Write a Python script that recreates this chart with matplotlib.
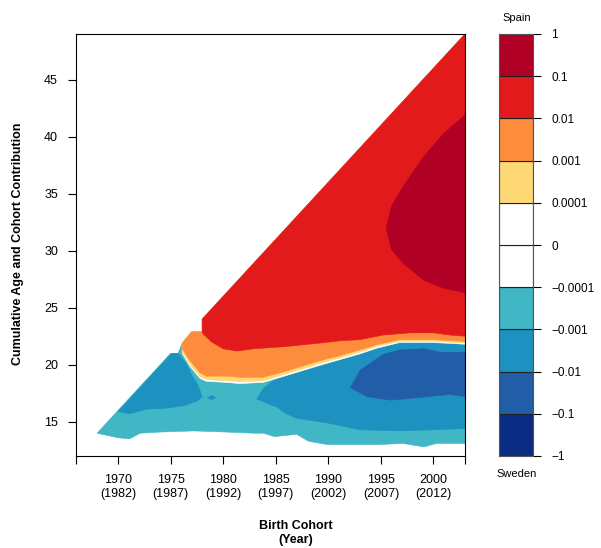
import numpy as np
import matplotlib
matplotlib.use('Agg')
import matplotlib.pyplot as plt

plt.rcParams['font.family'] = ['Liberation Sans', 'DejaVu Sans']

# colours of the contour classes (YlGnBu for Sweden, YlOrRd for Spain)
level_colors = ['#0C2C84', '#225EA8', '#1D91C0', '#41B6C4', '#FFFFFF',
                '#FFFFFF', '#FED976', '#FD8D3C', '#E31A1C', '#B10026']
level_labels = ['\u22121', '\u22120.1', '\u22120.01', '\u22120.001', '\u22120.0001', '0',
                '0.0001', '0.001', '0.01', '0.1', '1']

# x tick labels: birth cohort (year of observation)
cohort_ticks = [1970, 1975, 1980, 1985, 1990, 1995, 2000]
cohort_labels = ['1970\n(1982)', '1975\n(1987)', '1980\n(1992)', '1985\n(1997)',
                 '1990\n(2002)', '1995\n(2007)', '2000\n(2012)']
age_ticks = [15, 20, 25, 30, 35, 40, 45]

# outer edge of the estimated surface
top_x = [1968.0, 1975.0, 1975.7, 1976.1, 1977.0, 1978.0, 1978.0, 2003.0]
top_y = [14.0, 21.0, 21.0, 21.9, 22.9, 22.9, 24.0, 49.0]
bottom_x = [1968.0, 1970.0, 1971.1, 1972.1, 1974.0, 1977.2, 1980.3, 1982.9, 1983.8,
            1984.9, 1985.9, 1987.0, 1988.1, 1989.9, 1992.1, 1994.6, 1997.1, 1999.1,
            2000.3, 2003.0]
bottom_y = [14.0, 13.6, 13.5, 14.0, 14.1, 14.2, 14.1, 14.0, 14.0,
            13.7, 13.8, 13.9, 13.3, 13.0, 13.0, 13.0, 13.1, 12.8,
            13.1, 13.1]

# -0.001 .. -0.01 regions
blue_left_x = [1970.0, 1975.1, 1975.7, 1976.5, 1977.0, 1977.6, 1978.0, 1977.5, 1976.2,
               1974.6, 1972.7, 1971.1]
blue_left_y = [15.9, 21.0, 21.0, 20.1, 19.1, 18.2, 17.2, 16.8, 16.4,
               16.2, 16.1, 15.7]
blue_dot_x = [1978.5, 1978.9, 1979.3, 1978.9]
blue_dot_y = [17.1, 17.3, 17.1, 16.95]
blue_right_x = [1983.2, 1983.8, 1984.6, 1986.0, 1989.0, 1992.0, 1995.0, 1997.0, 2003.0,
                2003.0, 2000.0, 1996.8, 1993.0, 1989.9, 1987.0, 1986.0, 1985.1, 1984.5]
blue_right_y = [17.0, 17.9, 18.5, 19.2, 20.3, 21.2, 22.0, 22.4, 22.3,
                14.4, 14.3, 14.2, 14.3, 14.9, 15.3, 15.7, 16.3, 16.5]

# -0.01 .. -0.1 region
navy_x = [1992.1, 1993.0, 1995.2, 1996.8, 1999.1, 2000.6, 2003.0, 2003.0, 2001.6,
          1998.4, 1995.9, 1993.7]
navy_y = [18.0, 19.5, 20.9, 21.3, 21.4, 21.1, 21.1, 17.2, 17.4,
          17.1, 16.9, 17.2]

# lower edges of the positive classes (everything above them up to the outer edge)
band_x = [1976.1, 1976.8, 1977.8, 1978.4, 1980.3, 1981.6, 1983.8, 1986.0, 1989.2,
          1991.1, 1993.0, 1994.6, 1996.8, 2000.0, 2003.0]
white_lo = [21.0, 19.9, 18.8, 18.55, 18.45, 18.35, 18.45, 19.05, 19.95,
            20.45, 20.95, 21.45, 21.95, 21.95, 21.8]
yellow_lo = [21.15, 20.05, 18.95, 18.7, 18.6, 18.5, 18.6, 19.2, 20.1,
             20.6, 21.1, 21.6, 22.05, 22.05, 21.9]
orange_lo = [21.4, 20.4, 19.3, 19.0, 19.0, 18.9, 18.9, 19.45, 20.35,
             20.8, 21.3, 21.75, 22.2, 22.2, 22.05]
red_x = [1978.0, 1978.1, 1978.9, 1980.0, 1981.3, 1982.9, 1986.0, 1989.2, 1991.1,
         1993.0, 1995.2, 1997.8, 2000.0, 2001.6, 2003.0]
red_lo = [22.9, 22.7, 22.0, 21.4, 21.2, 21.4, 21.6, 21.9, 22.1,
          22.2, 22.6, 22.8, 22.8, 22.6, 22.5]

# 0.1 .. 1 region
darkred_x = [2003.0, 2001.0, 1999.1, 1997.1, 1996.0, 1995.5, 1996.0, 1997.1, 1999.1,
             2001.0, 2003.0]
darkred_y = [41.9, 40.3, 38.3, 35.6, 33.9, 32.0, 30.1, 28.9, 27.4,
             26.7, 26.3]


def upper_region(xs, ys):
    # lower curve from left to right, then back along the outer edge
    px = list(xs)
    py = list(ys)
    for tx, ty in reversed(list(zip(top_x, top_y))):
        if tx >= xs[0]:
            px.append(tx)
            py.append(ty)
    return px, py


fig = plt.figure(figsize=(6.01, 5.48), dpi=100)
ax = fig.add_axes([76 / 601, 92 / 548, 389 / 601, 422 / 548])


def patch(x, y, c):
    ax.fill(x, y, facecolor=c, edgecolor=c, linewidth=0.4)


# whole surface in the -0.0001 .. -0.001 class
patch(top_x + bottom_x[::-1], top_y + bottom_y[::-1], level_colors[3])
patch(blue_left_x, blue_left_y, level_colors[2])
patch(blue_dot_x, blue_dot_y, level_colors[2])
patch(blue_right_x, blue_right_y, level_colors[2])
patch(navy_x, navy_y, level_colors[1])
for lo, c in [(white_lo, level_colors[5]), (yellow_lo, level_colors[6]),
              (orange_lo, level_colors[7])]:
    px, py = upper_region(band_x, lo)
    patch(px, py, c)
px, py = upper_region(red_x, red_lo)
patch(px, py, level_colors[8])
patch(darkred_x, darkred_y, level_colors[9])

ax.set_xlim(1966, 2003)
ax.set_ylim(12, 49)
ax.set_xticks([1966] + cohort_ticks + [2003])
ax.set_xticklabels([''] + cohort_labels + [''])
ax.set_yticks(age_ticks)
ax.tick_params(axis='both', direction='out', length=6, width=0.8, labelsize=9, pad=7)
for s in ax.spines.values():
    s.set_linewidth(0.8)

fig.text(18 / 601, 1 - 244 / 548, 'Cumulative Age and Cohort Contribution', rotation=90,
         ha='center', va='center', fontsize=9, fontweight='bold')
fig.text(296 / 601, 1 - 533 / 548, 'Birth Cohort\n(Year)', ha='center', va='center',
         fontsize=9, fontweight='bold', linespacing=1.2)

# colour key
cax = fig.add_axes([499 / 601, 92 / 548, 34 / 601, 422 / 548])
for i, c in enumerate(level_colors):
    cax.bar(0.5, 1, bottom=i, width=1, color=c, edgecolor='#222222', linewidth=0.8)
cax.set_xlim(0, 1)
cax.set_ylim(0, 10)
cax.set_xticks([])
cax.yaxis.tick_right()
cax.set_yticks(range(11))
cax.set_yticklabels(level_labels)
cax.tick_params(axis='y', direction='out', length=6, width=0.8, labelsize=8.5, pad=7)
for s in cax.spines.values():
    s.set_linewidth(0.8)
    s.set_color('#555555')
fig.text(517 / 601, 1 - 18 / 548, 'Spain', ha='center', va='center', fontsize=8)
fig.text(517 / 601, 1 - 474 / 548, 'Sweden', ha='center', va='center', fontsize=8)

fig.savefig('out.png', dpi=100)
